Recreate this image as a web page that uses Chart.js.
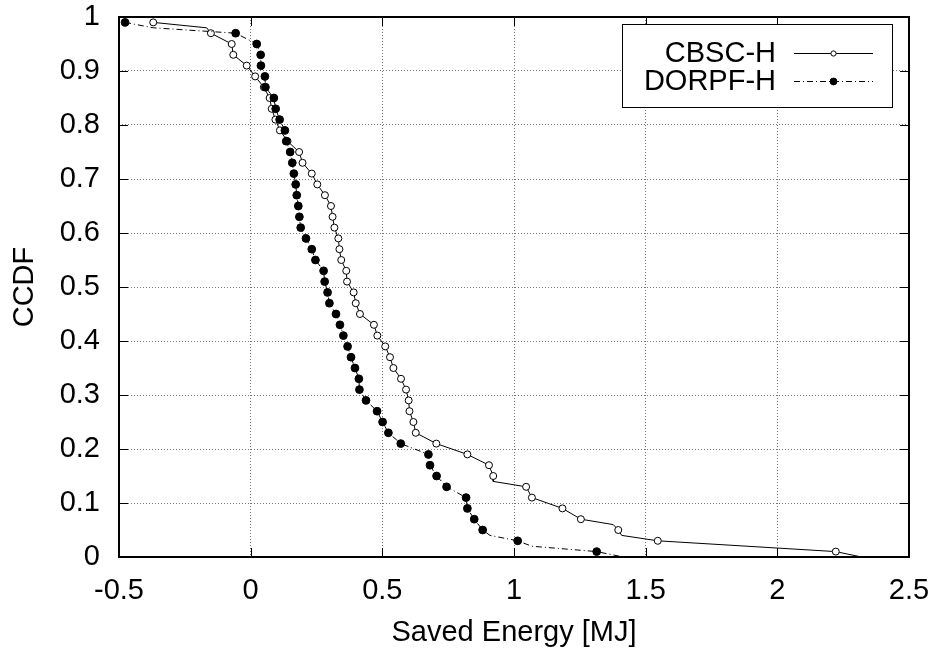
<!DOCTYPE html>
<html>
<head>
<meta charset="utf-8">
<script src="https://cdn.jsdelivr.net/npm/chart.js@4/dist/chart.umd.min.js"></script>
<style>
html,body{margin:0;padding:0;background:#fff;}
#c{display:block;}
</style>
</head>
<body>
<canvas id="c" width="938" height="655"></canvas>
<script>
// ---------- data ----------
const seriesNames = ['CBSC-H', 'DORPF-H'];

const cbscY = [0.99, 0.98, 0.97, 0.95, 0.93, 0.91, 0.89, 0.87, 0.85, 0.83, 0.81, 0.79, 0.77, 0.75, 0.73, 0.71, 0.69, 0.67, 0.65, 0.63, 0.61, 0.59, 0.57, 0.55, 0.53, 0.51, 0.49, 0.47, 0.45, 0.43, 0.41, 0.39, 0.37, 0.35, 0.33, 0.31, 0.29, 0.27, 0.25, 0.23, 0.21, 0.19, 0.17, 0.15, 0.14, 0.13, 0.11, 0.09, 0.07, 0.06, 0.05, 0.04, 0.03, 0.01, 0.00];
const cbscX = [-0.370, -0.167, -0.151, -0.072, -0.066, -0.015, 0.017, 0.050, 0.072, 0.080, 0.094, 0.111, 0.140, 0.184, 0.197, 0.232, 0.253, 0.282, 0.305, 0.311, 0.318, 0.333, 0.337, 0.344, 0.363, 0.366, 0.391, 0.399, 0.415, 0.468, 0.481, 0.511, 0.529, 0.542, 0.571, 0.590, 0.600, 0.603, 0.618, 0.627, 0.705, 0.823, 0.905, 0.921, 0.921, 1.046, 1.068, 1.184, 1.254, 1.377, 1.396, 1.409, 1.546, 2.222, 2.320];

const dorpfY = [0.99, 0.98, 0.97, 0.95, 0.93, 0.91, 0.89, 0.87, 0.85, 0.83, 0.81, 0.79, 0.77, 0.75, 0.73, 0.71, 0.69, 0.67, 0.65, 0.63, 0.61, 0.59, 0.57, 0.55, 0.53, 0.51, 0.49, 0.47, 0.45, 0.43, 0.41, 0.39, 0.37, 0.35, 0.33, 0.31, 0.29, 0.27, 0.25, 0.23, 0.21, 0.19, 0.17, 0.15, 0.13, 0.11, 0.09, 0.07, 0.05, 0.04, 0.03, 0.02, 0.01, 0.00];
const dorpfX = [-0.477, -0.370, -0.057, 0.023, 0.038, 0.039, 0.054, 0.056, 0.088, 0.095, 0.110, 0.130, 0.135, 0.150, 0.158, 0.164, 0.171, 0.175, 0.181, 0.185, 0.190, 0.210, 0.232, 0.246, 0.277, 0.281, 0.292, 0.299, 0.324, 0.339, 0.352, 0.368, 0.381, 0.396, 0.411, 0.413, 0.438, 0.480, 0.501, 0.523, 0.570, 0.675, 0.681, 0.706, 0.744, 0.818, 0.823, 0.849, 0.881, 0.909, 1.014, 1.067, 1.314, 1.415];

const xTickValues = [-0.5, 0, 0.5, 1, 1.5, 2, 2.5];
const xTickLabels = ['-0.5', '0', '0.5', '1', '1.5', '2', '2.5'];
const yTickValues = [0, 0.1, 0.2, 0.3, 0.4, 0.5, 0.6, 0.7, 0.8, 0.9, 1];
const yTickLabels = ['0', '0.1', '0.2', '0.3', '0.4', '0.5', '0.6', '0.7', '0.8', '0.9', '1'];
const xTitle = 'Saved Energy [MJ]';
const yTitle = 'CCDF';

// ---------- styling ----------
const FONT = '"Liberation Sans", Arial, Helvetica, sans-serif';
const FSIZE = 29;
const toPts = (xs, ys) => xs.map((x, i) => ({x: x, y: ys[i]}));
const marked = (ctx) => ctx.raw && (Math.round(ctx.raw.y * 100) % 2 === 1);

const framePlugin = {
  id: 'frame',
  afterDatasetsDraw(chart) {
    const {ctx, chartArea: a, scales: {x, y}} = chart;
    ctx.save();
    ctx.strokeStyle = '#000';
    ctx.lineWidth = 1;
    const T = 9;
    ctx.beginPath();
    xTickValues.forEach(v => {
      const px = Math.round(x.getPixelForValue(v)) + 0.5;
      ctx.moveTo(px, a.bottom); ctx.lineTo(px, a.bottom - T);
      ctx.moveTo(px, a.top); ctx.lineTo(px, a.top + T);
    });
    yTickValues.forEach(v => {
      const py = Math.round(y.getPixelForValue(v)) + 0.5;
      ctx.moveTo(a.left, py); ctx.lineTo(a.left + T, py);
      ctx.moveTo(a.right, py); ctx.lineTo(a.right - T, py);
    });
    ctx.stroke();
    ctx.lineWidth = 2;
    ctx.strokeRect(a.left, a.top, a.right - a.left, a.bottom - a.top);
    ctx.restore();
  },
  afterDraw(chart) {
    const {ctx} = chart;
    const bx = 622, by = 24, bw = 270, bh = 83;
    ctx.save();
    ctx.fillStyle = '#fff';
    ctx.fillRect(bx, by, bw, bh);
    ctx.strokeStyle = '#000';
    ctx.lineWidth = 1;
    ctx.strokeRect(bx + 0.5, by + 0.5, bw, bh);
    ctx.font = FSIZE + 'px ' + FONT;
    ctx.textAlign = 'right';
    ctx.textBaseline = 'middle';
    ctx.fillStyle = '#000';
    const rows = [53, 81];
    chart.data.datasets.forEach((ds, i) => {
      const ry = rows[i];
      ctx.fillText(ds.label, 776, ry + 1);
      ctx.beginPath();
      ctx.setLineDash(ds.borderDash || []);
      ctx.lineWidth = 1;
      ctx.moveTo(794, ry + 0.5); ctx.lineTo(873, ry + 0.5);
      ctx.stroke();
      ctx.setLineDash([]);
      ctx.beginPath();
      ctx.arc(833.5, ry + 0.5, ds.legendRadius, 0, Math.PI * 2);
      ctx.fillStyle = ds.pointBackgroundColor;
      ctx.fill();
      ctx.strokeStyle = '#000';
      ctx.stroke();
      ctx.fillStyle = '#000';
    });
    ctx.restore();
  }
};

new Chart(document.getElementById('c'), {
  type: 'scatter',
  data: {
    datasets: [
      {
        label: seriesNames[0],
        data: toPts(cbscX, cbscY),
        showLine: true,
        borderColor: '#000',
        borderWidth: 1,
        tension: 0,
        pointStyle: 'circle',
        pointBackgroundColor: '#fff',
        pointBorderColor: '#000',
        pointBorderWidth: 1,
        pointRadius: (c) => marked(c) ? 3.5 : 0,
        legendRadius: 2.6,
        order: 2
      },
      {
        label: seriesNames[1],
        data: toPts(dorpfX, dorpfY),
        showLine: true,
        borderColor: '#000',
        borderWidth: 1,
        borderDash: [6, 3, 1, 3],
        tension: 0,
        pointStyle: 'circle',
        pointBackgroundColor: '#000',
        pointBorderColor: '#000',
        pointBorderWidth: 1,
        pointRadius: (c) => marked(c) ? 3.9 : 0,
        legendRadius: 3.4,
        order: 1
      }
    ]
  },
  options: {
    responsive: false,
    animation: false,
    devicePixelRatio: 1,
    layout: {padding: {left: 0, right: 29, top: 17, bottom: 0}},
    plugins: {legend: {display: false}, tooltip: {enabled: false}},
    scales: {
      x: {
        type: 'linear',
        min: -0.5, max: 2.5,
        afterBuildTicks: (s) => { s.ticks = xTickValues.map(v => ({value: v})); },
        afterFit: (s) => { s.height = 98; s.paddingLeft = 0; s.paddingRight = 0; },
        ticks: {
          callback: (v, i) => xTickLabels[i],
          font: {family: FONT, size: FSIZE},
          color: '#000',
          padding: 17,
          maxRotation: 0,
          autoSkip: false
        },
        grid: {color: '#777', lineWidth: 1, drawTicks: false, tickLength: 0},
        border: {display: false, dash: [1, 2]},
        title: {display: true, text: xTitle, color: '#000', font: {family: FONT, size: FSIZE}, padding: {top: 0, bottom: 5}}
      },
      y: {
        type: 'linear',
        min: 0, max: 1,
        afterBuildTicks: (s) => { s.ticks = yTickValues.map(v => ({value: v})); },
        afterFit: (s) => { s.width = 119; s.paddingTop = 0; s.paddingBottom = 0; },
        ticks: {
          callback: (v, i) => yTickLabels[i],
          font: {family: FONT, size: FSIZE},
          color: '#000',
          padding: 19,
          autoSkip: false
        },
        grid: {color: '#777', lineWidth: 1, drawTicks: false, tickLength: 0},
        border: {display: false, dash: [1, 2]},
        title: {display: true, text: yTitle, color: '#000', font: {family: FONT, size: FSIZE}, padding: {top: 8, bottom: 0}}
      }
    }
  },
  plugins: [framePlugin]
});
</script>
</body>
</html>
